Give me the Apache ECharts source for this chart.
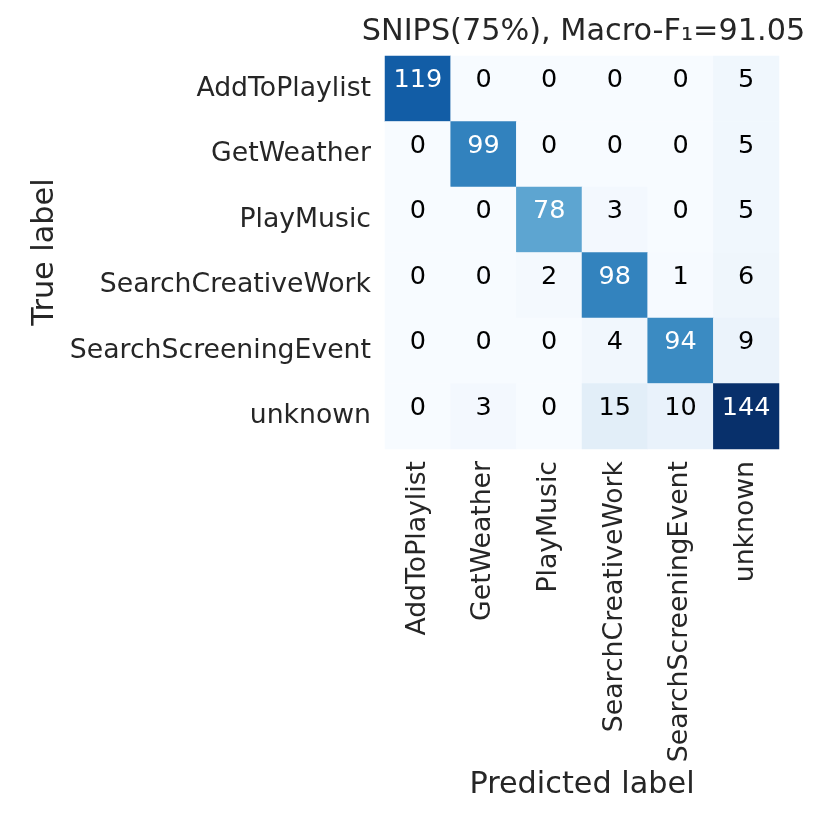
<!DOCTYPE html>
<html><head><meta charset="utf-8">
<script src="https://cdn.jsdelivr.net/npm/echarts@6/dist/echarts.min.js"></script>
<style>html,body{margin:0;padding:0;background:#fff}#c{width:822px;height:822px}</style>
</head><body><div id="c"></div>
<script>
const trueLabels = ["AddToPlaylist","GetWeather","PlayMusic","SearchCreativeWork","SearchScreeningEvent","unknown"];
const predLabels = ["AddToPlaylist","GetWeather","PlayMusic","SearchCreativeWork","SearchScreeningEvent","unknown"];
const rowAddToPlaylist = [119,0,0,0,0,5];
const rowGetWeather = [0,99,0,0,0,5];
const rowPlayMusic = [0,0,78,3,0,5];
const rowSearchCreativeWork = [0,0,2,98,1,6];
const rowSearchScreeningEvent = [0,0,0,4,94,9];
const rowUnknown = [0,3,0,15,10,144];
const matrix = [rowAddToPlaylist,rowGetWeather,rowPlayMusic,rowSearchCreativeWork,rowSearchScreeningEvent,rowUnknown];
const titleText = "SNIPS(75%), Macro-F\u2081=91.05";

const vmax = 144;
const data = [];
matrix.forEach((row, i) => row.forEach((v, j) => {
  data.push({value: [j, i, v], label: {color: v > vmax * 0.5 ? '#ffffff' : '#000000'}});
}));

const FONT = 'DejaVu Sans';
const chart = echarts.init(document.getElementById('c'));
chart.setOption({
  backgroundColor: '#ffffff',
  animation: false,
  grid: {left: 385, top: 56, width: 394, height: 393},
  xAxis: {
    type: 'category', data: predLabels, position: 'bottom',
    axisLine: {show: false}, axisTick: {show: false}, splitLine: {show: false},
    axisLabel: {rotate: 90, margin: 12, fontSize: 26.7, fontFamily: FONT, color: '#262626', interval: 0}
  },
  yAxis: {
    type: 'category', data: trueLabels, inverse: true,
    axisLine: {show: false}, axisTick: {show: false}, splitLine: {show: false},
    axisLabel: {margin: 14, fontSize: 26.7, fontFamily: FONT, color: '#262626', interval: 0}
  },
  visualMap: {
    show: false, min: 0, max: vmax, dimension: 2,
    inRange: {color: ['#f7fbff','#deebf7','#c6dbef','#9ecae1','#6baed6','#4292c6','#2171b5','#08519c','#08306b']}
  },
  series: [{
    type: 'heatmap', data: data,
    itemStyle: {borderWidth: 0},
    label: {show: true, fontSize: 25.5, fontFamily: FONT, offset: [0, -8]},
    emphasis: {disabled: true}
  }],
  graphic: [
    {type: 'text', x: 583.5, y: 32, style: {text: titleText, fontSize: 30.3, fontFamily: FONT, fill: '#262626', textAlign: 'center', textVerticalAlign: 'middle'}},
    {type: 'text', x: 582, y: 785, style: {text: 'Predicted label', fontSize: 30.3, fontFamily: FONT, fill: '#262626', textAlign: 'center', textVerticalAlign: 'middle'}},
    {type: 'text', x: 45, y: 252, rotation: Math.PI / 2, style: {text: 'True label', fontSize: 30.3, fontFamily: FONT, fill: '#262626', textAlign: 'center', textVerticalAlign: 'middle'}}
  ]
});
</script></body></html>
